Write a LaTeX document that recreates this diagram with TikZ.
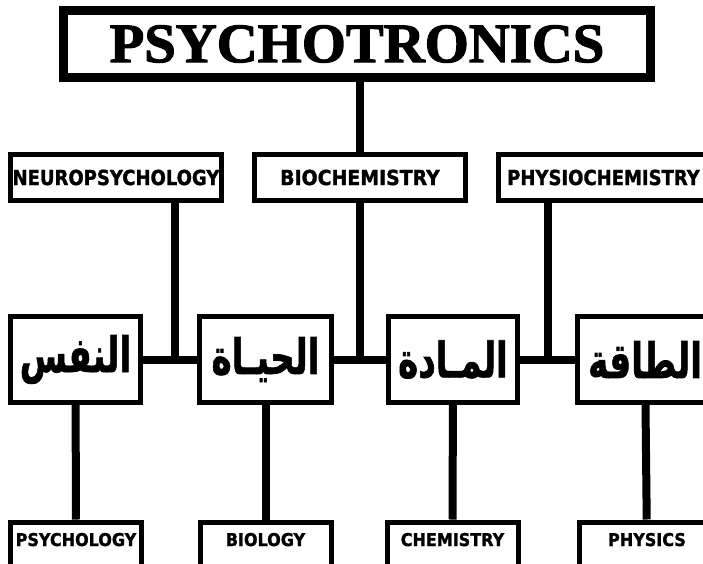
\documentclass[tikz,border=0pt]{standalone}
\usepackage{fontspec}
\usepackage{graphicx}
\setmainfont{DejaVu Sans}[BoldFeatures={FakeBold=1.5}]
\newfontfamily\titlefont{Liberation Serif}[BoldFeatures={FakeBold=2}]
\newfontfamily\arabicfont[Script=Arabic,BoldFeatures={FakeBold=1.5}]{DejaVu Sans}
\TeXXeTstate=1
\usetikzlibrary{calc,positioning}

\begin{document}
\begin{tikzpicture}[x=1pt,y=-1pt,
    titlebox/.style={draw,line width=9pt,minimum width=587pt,minimum height=67pt,
        font=\titlefont\bfseries\fontsize{53}{53}\selectfont},
    fieldbox/.style={draw,line width=5pt,minimum width=211pt,minimum height=46pt,inner sep=0pt,
        font=\bfseries\fontsize{18}{18}\selectfont},
    arabbox/.style={draw,line width=5pt,minimum width=130pt,minimum height=86pt,inner sep=0pt,
        font=\arabicfont\bfseries\fontsize{36}{36}\selectfont},
    basebox/.style={draw,line width=5pt,minimum width=131pt,minimum height=48pt,inner sep=0pt,
        text height=8pt,text depth=8pt,font=\bfseries\fontsize{16}{16}\selectfont},
    link/.style={line width=8pt}]

                \useasboundingbox (0,0) rectangle (703,564);
                \clip (0,0) rectangle (703,564);

                \node[titlebox] (title) at (357,44) {\scalebox{1.07}[1.05]{PSYCHOTRONICS}};

                % second row: the mixed sciences
                \node[fieldbox] (neuro) at (116,177.5) {\scalebox{1}[1.15]{NEUROPSYCHOLOGY}};

                \node[fieldbox] (bioch) at (360,177.5) {\scalebox{1.05}[1.15]{BIOCHEMISTRY}};

                \node[fieldbox] (physio) at (603.5,177.5) {\scalebox{1}[1.15]{PHYSIOCHEMISTRY}};

                % third row
                \node[arabbox] (nafs) at (75.5,359.5) {\scalebox{0.95}[1.35]{\beginR النفس\endR}};

                \node[arabbox,minimum width=132pt] (hayat) at (265.5,359.5) {\scalebox{0.95}[1.35]{\beginR الحيـاة\endR}};

                \node[arabbox,minimum width=129pt] (madda) at (453,359.5) {\scalebox{0.95}[1.35]{\beginR المـادة\endR}};

                \node[arabbox,minimum width=135pt] (taqa) at (645,359.5) {\scalebox{0.95}[1.35]{\beginR الطاقة\endR}};

                % last row
                \node[basebox] (psych) at (76,546) {\scalebox{1}[1.1]{PSYCHOLOGY}};

                \node[basebox] (biol) at (265.5,546) {\scalebox{1}[1.1]{BIOLOGY}};

                \node[basebox] (chem) at (452.5,546) {\scalebox{1}[1.1]{CHEMISTRY}};

                \node[basebox,minimum width=135pt] (phys) at (647,546) {\scalebox{1}[1.1]{PHYSICS}};

                \coordinate (j1) at ($(nafs.east)!0.6!(hayat.west)$);
                \coordinate (j2) at ($(hayat.east)!0.5!(madda.west)$);
                \coordinate (j3) at ($(madda.east)!0.5!(taqa.west)$);

                \path[link] (nafs) edge (hayat)
                            (hayat) edge (madda)
                            (madda) edge (taqa)
                            (nafs) edge (psych)
                            (hayat) edge (biol)
                            (madda) edge (chem)
                            (taqa) edge (phys);

                \draw[link] (title.south -| bioch.north) -- (bioch.north);
                \draw[link] (neuro.south -| j1) -- (j1);
                \draw[link] (bioch.south -| j2) -- (j2);
                \draw[link] (physio.south -| j3) -- (j3);

            \end{tikzpicture}
\end{document}
